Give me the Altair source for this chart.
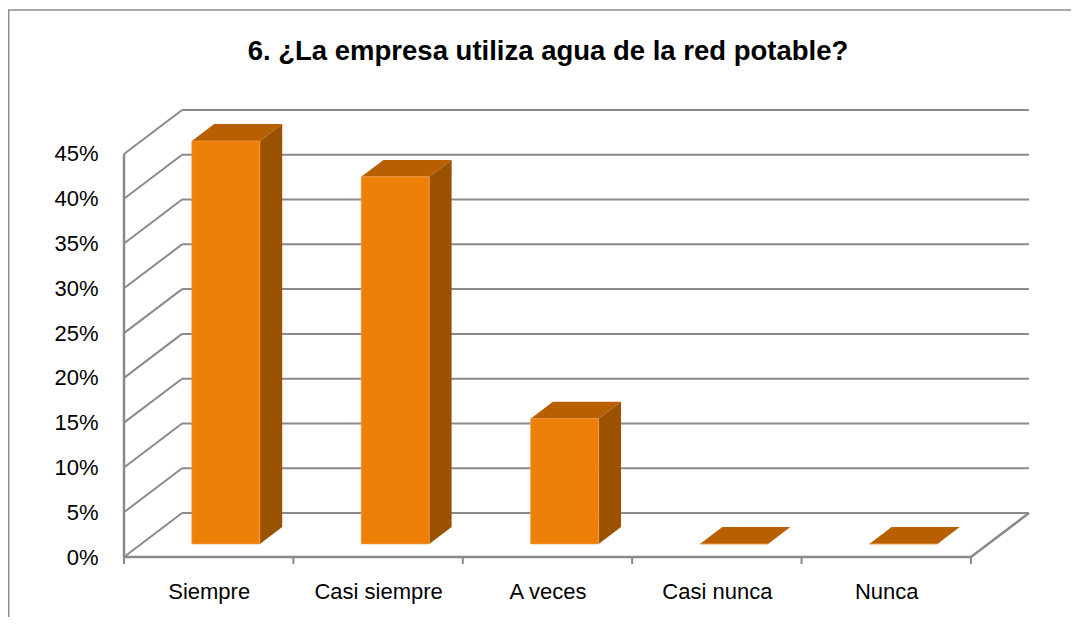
import json
import altair as alt
import pandas as pd

# ---- data ----
categories = ["Siempre", "Casi siempre", "A veces", "Casi nunca", "Nunca"]
values = [0.45, 0.41, 0.14, 0.0, 0.0]
tick_values = [0.0, 0.05, 0.10, 0.15, 0.20, 0.25, 0.30, 0.35, 0.40, 0.45]
title_text = "6. ¿La empresa utiliza agua de la red potable?"

# ---- oblique 3-D projection parameters (in scale units) ----
DX = 0.3428      # horizontal shift of the back plane, category units
DY = 0.0491      # vertical shift of the back plane, value units
D1, D2 = 0.295, 0.68   # depth of bar front / back faces
BW = 0.402       # bar width, category units
N = len(categories)

XMAX = N + DX
YMAX = max(tick_values) + DY

xs = alt.Scale(domain=[0, XMAX], nice=False, zero=False)
ys = alt.Scale(domain=[0, YMAX], nice=False, zero=False)

GRID = "#8a8a8a"
FONT = "Liberation Sans, Arial, Helvetica, sans-serif"

label_expr = json.dumps(categories) + "[floor(datum.value)]"
XAXIS = alt.Axis(values=[i + 0.5 for i in range(N)], labelExpr=label_expr, ticks=False,
                 domain=False, grid=False, title=None, labelFontSize=22, labelFont=FONT,
                 labelColor="black", labelPadding=24)
YAXIS = alt.Axis(values=tick_values, format=".0%", ticks=False, domain=False, grid=False,
                 title=None, labelFontSize=22, labelFont=FONT, labelColor="black",
                 labelPadding=26)


def X(f):
    return alt.X(f, scale=xs, axis=XAXIS)


def Y(f):
    return alt.Y(f, scale=ys, axis=YAXIS)


# ---- walls ----
back = pd.DataFrame({"x": DX, "x2": N + DX, "y": [t + DY for t in tick_values],
                     "y2": [t + DY for t in tick_values]})
side = pd.DataFrame({"x": 0.0, "x2": DX, "y": tick_values,
                     "y2": [t + DY for t in tick_values]})
edges = pd.DataFrame({
    "x": [0.0, 0.0, N],
    "x2": [N, 0.0, N + DX],
    "y": [0.0, 0.0, 0.0],
    "y2": [0.0, max(tick_values), DY],
})
ticks = pd.DataFrame({"x": [float(i) for i in range(N + 1)]})

# ---- bars ----
front_rows, side_rows, top_rows = [], [], []
for i, (c, v) in enumerate(zip(categories, values)):
    cx = i + 0.5
    front_rows.append({"cat": c, "x": cx - BW / 2 + D1 * DX, "x2": cx + BW / 2 + D1 * DX,
                       "y": D1 * DY, "y2": v + D1 * DY})
    for d in (D1, D2):
        side_rows.append({"cat": c, "x": cx + BW / 2 + d * DX, "yb": d * DY, "yt": v + d * DY})
        top_rows.append({"cat": c, "y": v + d * DY, "xl": cx - BW / 2 + d * DX,
                         "xr": cx + BW / 2 + d * DX})
front = pd.DataFrame(front_rows)
sidef = pd.DataFrame(side_rows)
topf = pd.DataFrame(top_rows)

back_layer = alt.Chart(back).mark_rule(color=GRID, strokeWidth=2).encode(
    x=X("x:Q"), x2="x2:Q", y=Y("y:Q"), y2="y2:Q")

side_layer = alt.Chart(side).mark_rule(color=GRID, strokeWidth=2).encode(
    x=X("x:Q"), x2="x2:Q", y=Y("y:Q"), y2="y2:Q")

edge_layer = alt.Chart(edges).mark_rule(color=GRID, strokeWidth=2.5).encode(
    x=X("x:Q"), x2="x2:Q", y=Y("y:Q"), y2="y2:Q")

tick_layer = alt.Chart(ticks).mark_rule(color=GRID, strokeWidth=2).encode(
    x=X("x:Q"), y=alt.value(447), y2=alt.value(454))

side_face = alt.Chart(sidef).mark_area(orient="vertical", color="#9a5100").encode(
    x=X("x:Q"), y=Y("yb:Q"), y2="yt:Q", detail="cat:N")

top_face = alt.Chart(topf).mark_area(orient="horizontal", color="#b85f02").encode(
    y=Y("y:Q"), x=X("xl:Q"), x2="xr:Q", detail="cat:N")

front_face = alt.Chart(front).mark_rect(color="#ef8007", stroke="#f5a050",
                                        strokeWidth=0.6).encode(
    x=X("x:Q"), x2="x2:Q", y=Y("y:Q"), y2="y2:Q")

one = pd.DataFrame({"k": [0]})
border_top = alt.Chart(one).mark_rule(color="#8d8d8d", strokeWidth=1.5).encode(
    x=alt.value(-116), x2=alt.value(960), y=alt.value(-100))
border_left = alt.Chart(one).mark_rule(color="#8d8d8d", strokeWidth=1.5).encode(
    x=alt.value(-115.3), y=alt.value(-100), y2=alt.value(520))

title_layer = alt.Chart(one).mark_text(
    text=title_text, font=FONT, fontSize=27.5, fontWeight="bold", color="black",
    align="center", baseline="alphabetic",
).encode(x=alt.value(424), y=alt.value(-50))

chart = alt.layer(
    back_layer, side_layer, edge_layer, tick_layer,
    side_face, top_face, front_face, border_top, border_left, title_layer,
).properties(
    width=905, height=447,
    autosize=alt.AutoSizeParams(type="none"),
    padding={"left": 116, "top": 102, "right": 42, "bottom": 60},
).configure(background="white", view=alt.ViewConfig(stroke=None))

chart.save("out.html", embed_options={"renderer": "svg", "actions": False})
